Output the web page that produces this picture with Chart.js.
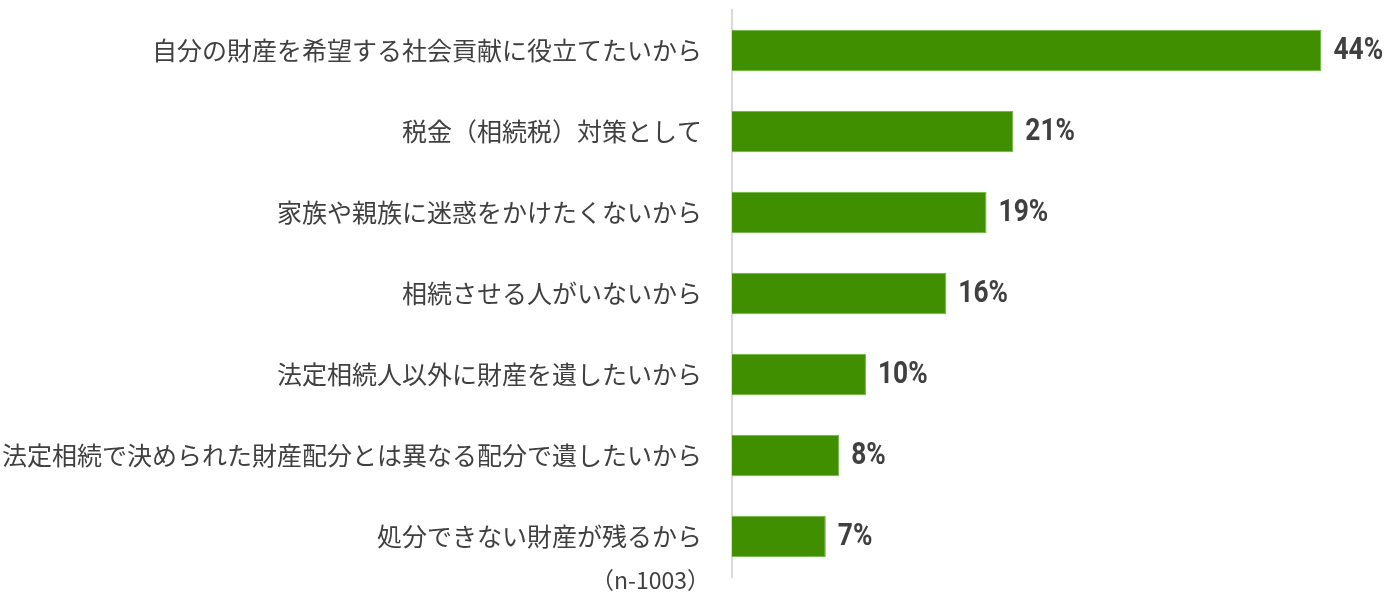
<!DOCTYPE html>
<html>
<head>
<meta charset="utf-8">
<script src="https://cdn.jsdelivr.net/npm/chart.js@4"></script>
<style>
  body { margin: 0; background: #fff; }
  #wrap { width: 1396px; height: 599px; }
</style>
</head>
<body>
<div id="wrap"><canvas id="grafica"></canvas></div>
<script>
// 回答項目と割合（%）
const categorias = [
    '自分の財産を希望する社会貢献に役立てたいから',
    '税金（相続税）対策として',
    '家族や親族に迷惑をかけたくないから',
    '相続させる人がいないから',
    '法定相続人以外に財産を遺したいから',
    '法定相続で決められた財産配分とは異なる配分で遺したいから',
    '処分できない財産が残るから'
];
const porcentajes = [44, 21, 19, 16, 10, 8, 7];
const notaMuestra = '（n-1003）';

// etiquetas de valor al final de cada barra
const etiquetasValor = {
    id: 'etiquetasValor',
    afterDatasetsDraw(chart) {
        const ctx = chart.ctx;
        const meta = chart.getDatasetMeta(0);
        ctx.save();
        ctx.fillStyle = '#404040';
        ctx.font = 'bold 31px Roboto, "Liberation Sans", sans-serif';
        ctx.textBaseline = 'middle';
        ctx.textAlign = 'left';
        meta.data.forEach((bar, i) => {
            ctx.save();
            ctx.translate(bar.x + 12, bar.y + 1);
            ctx.scale(0.85, 1);
            ctx.fillText(porcentajes[i] + '%', 0, 0);
            ctx.restore();
        });
        ctx.restore();
    }
};

// nota "(n-1003)" debajo de las categorías
const notaN = {
    id: 'notaN',
    afterDraw(chart) {
        const ctx = chart.ctx;
        ctx.save();
        ctx.fillStyle = '#404040';
        ctx.font = '23px "Noto Sans CJK JP", sans-serif';
        ctx.textAlign = 'right';
        ctx.textBaseline = 'middle';
        ctx.fillText(notaMuestra, chart.chartArea.left - 22, chart.chartArea.bottom + 3);
        ctx.restore();
    }
};

const ctx = document.getElementById('grafica').getContext('2d');
const chart = new Chart(ctx, {
    type: 'bar',
    data: {
        labels: categorias,
        datasets: [{
            data: porcentajes,
            backgroundColor: '#408f00',
            borderColor: '#6ab63a',
            borderWidth: 1,
            barPercentage: 0.51,
            categoryPercentage: 1
        }]
    },
    options: {
        indexAxis: 'y',
        responsive: true,
        maintainAspectRatio: false,
        animation: false,
        layout: { padding: { top: 10, bottom: 22, right: 21, left: 0 } },
        plugins: {
            legend: { display: false },
            tooltip: { enabled: false }
        },
        scales: {
            x: { display: false, min: 0, max: 48 },
            y: {
                grid: { display: false, drawTicks: false },
                border: { display: true, color: '#d9d9d9', width: 2 },
                ticks: {
                    padding: 30,
                    color: '#404040',
                    font: { family: '"Noto Sans CJK JP", sans-serif', size: 25 }
                },
                afterFit(scale) {
                    scale.width = 732;
                    scale.paddingTop = 0;
                    scale.paddingBottom = 0;
                }
            }
        }
    },
    plugins: [etiquetasValor, notaN]
});
</script>
</body>
</html>
